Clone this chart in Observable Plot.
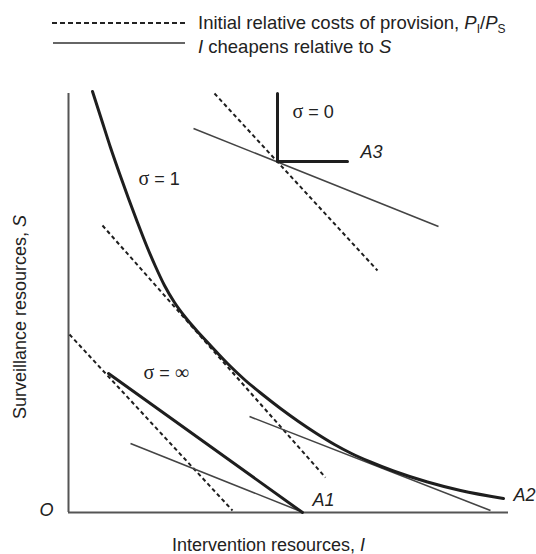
<!DOCTYPE html>
<html>
<head>
<meta charset="utf-8">
<script src="https://cdn.jsdelivr.net/npm/d3@7"></script>
<script src="https://cdn.jsdelivr.net/npm/@observablehq/plot@0.6"></script>
<style>
  html, body { margin: 0; padding: 0; background: #fff; }
  #wrap { width: 536px; height: 554px; overflow: hidden; font-family: "Liberation Sans", Arial, sans-serif; color: #222; }
  #legend { display: block; }
</style>
</head>
<body>
<div id="wrap">
  <svg id="legend" width="536" height="70" xmlns="http://www.w3.org/2000/svg">
    <line x1="52" y1="23" x2="187" y2="23" stroke="#222" stroke-width="2" stroke-dasharray="5,3"></line>
    <text x="198" y="29" font-size="18.5" fill="#222">Initial relative costs of provision, <tspan font-style="italic">P</tspan><tspan font-size="12" dy="4">I</tspan><tspan dy="-4">/</tspan><tspan font-style="italic">P</tspan><tspan font-size="12" dy="4">S</tspan></text>
    <line x1="53" y1="43" x2="185" y2="43" stroke="#333" stroke-width="1.5"></line>
    <text x="198" y="53" font-size="18.5" fill="#222"><tspan font-style="italic">I</tspan> cheapens relative to <tspan font-style="italic">S</tspan></text>
  </svg>
  <div id="chart"></div>
</div>
<script>
// ---- data (I = intervention resources, S = surveillance resources) ----
// sigma = 1 isoquant (smooth curve)
const sigma1I = [2.4, 3.3, 4.2, 5.1, 6.0, 6.9, 7.8, 8.7, 9.6, 10.6, 11.7, 12.9, 14.2, 15.9, 17.7, 19.4, 21.2, 23.0, 24.8, 26.6, 28.2, 30.2, 32.5, 35.9, 39.2, 43.5];
const sigma1S = [42.1, 39.3, 36.5, 33.9, 31.4, 29.0, 26.7, 24.6, 22.7, 21.0, 19.5, 18.1, 16.7, 14.9, 13.2, 11.8, 10.4, 9.1, 7.9, 6.8, 5.95, 5.05, 4.15, 3.05, 2.2, 1.4];
// sigma = infinity isoquant (straight line)
const sigmaInfI = [4.0, 23.4];
const sigmaInfS = [13.9, 0.0];
// sigma = 0 isoquant (L-shape)
const sigma0I = [20.9, 20.9, 27.9];
const sigma0S = [41.9, 35.1, 35.1];
// initial relative cost lines (dashed) : start and end points
const initialI1 = [14.6, 3.4, 0.1];
const initialS1 = [41.9, 28.7, 17.8];
const initialI2 = [30.9, 25.7, 16.4];
const initialS2 = [24.2, 3.5, 0.2];
// "I cheapens relative to S" lines (thin solid)
const cheapI1 = [12.5, 18.1, 6.2];
const cheapS1 = [38.4, 9.6, 6.9];
const cheapI2 = [37.0, 42.2, 23.0];
const cheapS2 = [28.6, 0.2, 0.2];
// annotations
const labelText = ["σ = 0", "*A3*", "σ = 1", "σ = ∞", "*A1*", "*A2*"];
const labelI = [22.4, 29.2, 7.0, 7.5, 24.4, 44.5];
const labelS = [40.0, 36.0, 33.3, 13.9, 1.2, 1.7];
const xLabel = "Intervention resources, *I*";
const yLabel = "Surveillance resources, *S*";
const originLabel = "*O*";

// ---- build tables for the library ----
const sigma1 = sigma1I.map((v, i) => ({I: v, S: sigma1S[i]}));
const sigmaInf = sigmaInfI.map((v, i) => ({I: v, S: sigmaInfS[i]}));
const sigma0 = sigma0I.map((v, i) => ({I: v, S: sigma0S[i]}));
const initial = initialI1.map((v, i) => ({I1: v, S1: initialS1[i], I2: initialI2[i], S2: initialS2[i]}));
const cheap = cheapI1.map((v, i) => ({I1: v, S1: cheapS1[i], I2: cheapI2[i], S2: cheapS2[i]}));
const labels = labelText.map((t, i) => ({t, I: labelI[i], S: labelS[i]}));

const ink = "#1e1e1e";
const chart = Plot.plot({
  width: 536,
  height: 484,
  marginLeft: 68,
  marginRight: 28,
  marginTop: 23,
  marginBottom: 42,
  x: {domain: [0, 44], axis: null},
  y: {domain: [0, 41.9], axis: null},
  style: {fontFamily: "Liberation Sans, Arial, sans-serif", fontSize: "18px", color: "#222", background: "#fff", overflow: "visible"},
  marks: [
    Plot.ruleX([0], {stroke: "#555", strokeWidth: 2}),
    Plot.ruleY([0], {stroke: "#555", strokeWidth: 2}),
    Plot.link(initial, {x1: "I1", y1: "S1", x2: "I2", y2: "S2", stroke: ink, strokeWidth: 2, strokeDasharray: "4,3"}),
    Plot.link(cheap, {x1: "I1", y1: "S1", x2: "I2", y2: "S2", stroke: "#444", strokeWidth: 1.6}),
    Plot.line(sigma1, {x: "I", y: "S", curve: "monotone-x", stroke: ink, strokeWidth: 3}),
    Plot.line(sigmaInf, {x: "I", y: "S", stroke: ink, strokeWidth: 3}),
    Plot.line(sigma0, {x: "I", y: "S", stroke: ink, strokeWidth: 3}),
    Plot.text(labels, {x: "I", y: "S", text: "t", textAnchor: "start", fill: "#222", fontSize: 18}),
    Plot.text([originLabel], {frameAnchor: "bottom-left", dx: -22, dy: 3, textAnchor: "middle", fill: "#222", fontSize: 18}),
    Plot.text([xLabel], {frameAnchor: "bottom", dx: -20, dy: 38, textAnchor: "middle", fill: "#222", fontSize: 18}),
    Plot.text([yLabel], {frameAnchor: "left", rotate: -90, dx: -48, dy: 14, textAnchor: "middle", fill: "#222", fontSize: 18})
  ]
});
document.getElementById("chart").appendChild(chart);

// rich text: *italic*, _subscript_, σ / ∞ in serif
function richify(el) {
  const s = el.textContent;
  if (!/[*_σ∞]/.test(s)) return;
  el.textContent = "";
  const parts = s.split(/(\*[^*]+\*|_[^_]+_|σ|∞)/).filter(p => p !== "");
  for (const p of parts) {
    const t = document.createElementNS("http://www.w3.org/2000/svg", "tspan");
    if (p.startsWith("*")) { t.textContent = p.slice(1, -1); t.setAttribute("font-style", "italic"); }
    else if (p.startsWith("_")) { t.textContent = p.slice(1, -1); t.setAttribute("font-size", "12"); }
    else if (p === "σ" || p === "∞") { t.textContent = p; t.setAttribute("font-family", "Liberation Serif, serif"); t.setAttribute("font-size", "20"); }
    else t.textContent = p;
    el.appendChild(t);
  }
}
chart.querySelectorAll("text").forEach(richify);
</script>
</body>
</html>
